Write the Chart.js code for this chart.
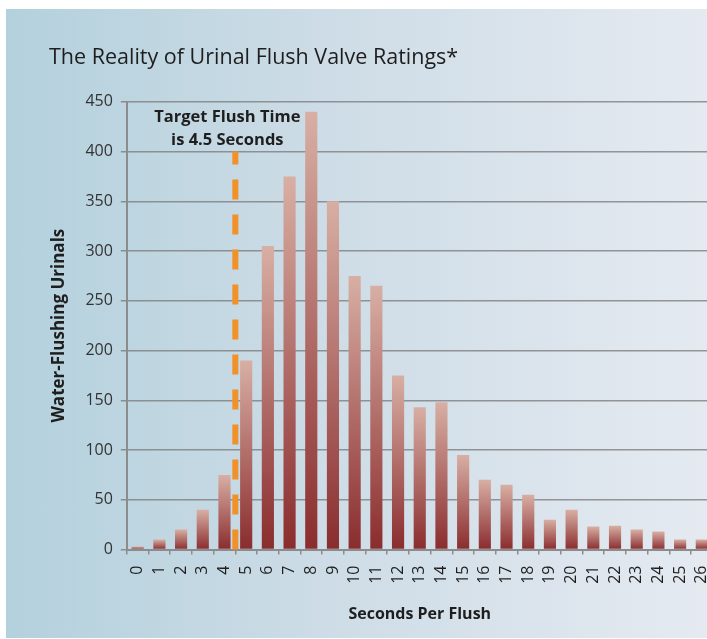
<!DOCTYPE html>
<html>
	<head>
		<meta charset="utf-8">
		<title>Urinal Flush Valve Ratings</title>
		<style>
		body {
			margin: 0;
			padding: 0;
			background-color: #fff;
			overflow: hidden;
		}
		.page {
			position: relative;
			width: 707px;
			height: 639px;
			overflow: hidden;
		}
		.bg {
			position: absolute;
			left: 6px;
			top: 9px;
			width: 701px;
			height: 629px;
			background: linear-gradient(to right, #b3d1dd 0%, #cddce6 45%, #e5eaf1 100%);
		}
		.chart {
			position: absolute;
			left: 0;
			top: 0;
			width: 732px;
			height: 639px;
		}
		</style>
		<script src="https://cdn.jsdelivr.net/npm/chart.js@4.4.0/dist/chart.umd.min.js"></script>
	</head>
	<body>
		<div class="page">
			<div class="bg"></div>
			<div class="chart">
				<canvas id="flush"></canvas>
			</div>
		</div>
		<script>
			// seconds per flush (x categories)
			var seconds = ['0','1','2','3','4','5','6','7','8','9','10','11','12','13',
				'14','15','16','17','18','19','20','21','22','23','24','25','26'];
			// number of water-flushing urinals
			var urinals = [3, 10, 20, 40, 75, 190, 305, 375, 440, 350, 275, 265, 175, 143,
				148, 95, 70, 65, 55, 30, 40, 23, 24, 20, 18, 10, 10];
			var targetTime = 4.5;
			var targetTop = 400;
			var targetText = ['Target Flush Time', 'is 4.5 Seconds'];

			var font = "'Open Sans', sans-serif";

			function barGradient(c) {
				var chart = c.chart;
				if (!chart.chartArea) return '#a05050';
				var y = chart.scales.y;
				var top = y.getPixelForValue(c.raw);
				var base = y.getPixelForValue(0);
				if (base - top < 1) top = base - 1;
				var g = chart.ctx.createLinearGradient(0, top, 0, base);
				g.addColorStop(0, '#d8afa4');
				g.addColorStop(1, '#8a2c2e');
				return g;
			}

			// dashed target line + its note, placed with the chart scales
			var targetLine = {
				id: 'targetLine',
				afterDatasetsDraw: function(chart) {
					var ctx = chart.ctx;
					var xs = chart.scales.x, ys = chart.scales.y;
					var lo = Math.floor(targetTime), hi = Math.ceil(targetTime);
					var x = xs.getPixelForValue(lo) + (xs.getPixelForValue(hi) - xs.getPixelForValue(lo)) * (targetTime - lo);
					ctx.save();
					ctx.strokeStyle = '#f0912a';
					ctx.lineWidth = 6;
					ctx.setLineDash([20, 15]);
					ctx.beginPath();
					ctx.moveTo(x, ys.getPixelForValue(0));
					ctx.lineTo(x, ys.getPixelForValue(targetTop));
					ctx.stroke();
					ctx.setLineDash([]);
					ctx.fillStyle = '#1e1e1e';
					ctx.font = 'bold 16.5px ' + font;
					ctx.textAlign = 'center';
					ctx.textBaseline = 'middle';
					ctx.fillText(targetText[0], x - 8, ys.getPixelForValue(434));
					ctx.fillText(targetText[1], x - 8, ys.getPixelForValue(411));
					ctx.restore();
				}
			};

			new Chart(document.getElementById('flush'), {
				type: 'bar',
				data: {
					labels: seconds,
					datasets: [{
						data: urinals,
						backgroundColor: barGradient,
						barPercentage: 0.56,
						categoryPercentage: 1
					}]
				},
				options: {
					responsive: true,
					maintainAspectRatio: false,
					animation: false,
					layout: {
						padding: { left: 49, right: 0, top: 0, bottom: 15 }
					},
					plugins: {
						legend: { display: false },
						tooltip: { enabled: false },
						title: {
							display: true,
							text: 'The Reality of Urinal Flush Valve Ratings*',
							align: 'start',
							color: '#1e1e1e',
							font: { family: font, size: 21.5, weight: 'normal' },
							padding: { top: 45, bottom: 31 }
						}
					},
					scales: {
						x: {
							offset: true,
							grid: {
								display: true,
								drawOnChartArea: false,
								offset: true,
								tickLength: 5,
								color: '#8c8c8c',
								lineWidth: 1.5
							},
							border: { color: '#8c8c8c', width: 2 },
							ticks: {
								color: '#1e1e1e',
								font: { family: font, size: 16 },
								maxRotation: 90,
								minRotation: 90,
								padding: 11,
								autoSkip: false
							},
							title: {
								display: true,
								text: 'Seconds Per Flush',
								color: '#1e1e1e',
								font: { family: font, size: 16, weight: 'bold' },
								padding: { top: 10, bottom: 0 }
							}
						},
						y: {
							min: 0,
							max: 450,
							z: 1,
							grid: {
								color: 'rgba(120,120,120,0.75)',
								lineWidth: 1.5,
								tickLength: 6,
								tickColor: '#8c8c8c'
							},
							border: { color: '#8c8c8c', width: 2 },
							ticks: {
								stepSize: 50,
								color: '#333',
								font: { family: font, size: 16 },
								padding: 8
							},
							title: {
								display: true,
								text: 'Water-Flushing Urinals',
								color: '#1e1e1e',
								font: { family: font, size: 17, weight: 'bold' },
								padding: { top: 0, bottom: 8 }
							}
						}
					}
				},
				plugins: [targetLine]
			});
		</script>
	</body>
</html>
